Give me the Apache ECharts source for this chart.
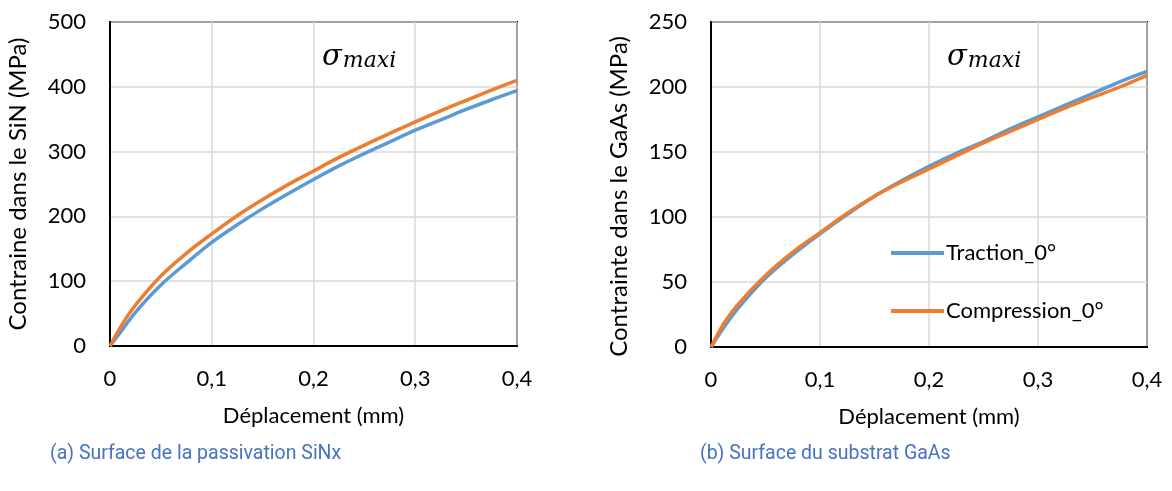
<!DOCTYPE html>
<html>
<head>
<meta charset="utf-8">
<script src="https://cdn.jsdelivr.net/npm/echarts@6/dist/echarts.min.js"></script>
<style>
html,body{margin:0;padding:0;background:#fff;}
#c{width:1172px;height:491px;}
</style>
</head>
<body>
<div id="c"></div>
<script>
// Data
const xs = [0, 0.0125, 0.025, 0.05, 0.075, 0.1, 0.125, 0.15, 0.175, 0.2, 0.225, 0.25, 0.275, 0.3, 0.325, 0.35, 0.375, 0.4];
const sinTraction    = [0, 26, 52, 94, 128, 160, 187, 212, 235, 257, 278, 297, 315, 333, 349, 365, 380, 394];
const sinCompression = [0, 35, 63, 108, 143, 173, 201, 226, 249, 270, 291, 310, 328, 346, 363, 379, 395, 410];
const gaasTraction    = [0, 16, 30, 53, 71, 87, 102, 116, 128, 139, 149, 158, 168, 177, 186, 195, 204, 212];
const gaasCompression = [0, 19, 33, 55, 73, 88, 103, 116, 127, 137, 147, 157, 166, 175, 184, 192, 200, 209];
const xTickLabels = ['0', '0,1', '0,2', '0,3', '0,4'];
const seriesNames = ['Traction_0°', 'Compression_0°'];
const yTitles = ['Contraine dans le SiN (MPa)', 'Contrainte dans le GaAs (MPa)'];
const xTitle = 'Déplacement (mm)';
const captions = ['(a) Surface de la passivation SiNx', '(b) Surface du substrat GaAs'];

const pairs = (ys) => xs.map((x, i) => [x, ys[i]]);
const FONT = 'Lato';
const FS = 22;
const BLUE = '#5B9BD5', ORANGE = '#ED7D31';

function xAxisDef(gi) {
  return {
    gridIndex: gi, type: 'value', min: 0, max: 0.4, interval: 0.1,
    name: xTitle, nameLocation: 'middle', nameGap: 59,
    nameTextStyle: {fontFamily: FONT, fontSize: FS, color: '#000'},
    axisLine: {show: true, lineStyle: {color: '#000', width: 2}},
    axisTick: {show: false},
    axisLabel: {margin: 22, fontFamily: FONT, fontSize: FS, color: '#000',
      formatter: (v) => xTickLabels[Math.round(v * 10)]},
    splitLine: {show: true, lineStyle: {color: '#d9d9d9', width: 1.5}}
  };
}
function yAxisDef(gi, max, interval, pad) {
  return {
    gridIndex: gi, type: 'value', min: 0, max: max, interval: interval,
    name: yTitles[gi], nameLocation: 'middle', nameGap: 80,
    nameTextStyle: {fontFamily: FONT, fontSize: 24, color: '#000', padding: pad},
    axisLine: {show: true, lineStyle: {color: '#000', width: 2}},
    axisTick: {show: false},
    axisLabel: {margin: 24, fontFamily: FONT, fontSize: FS, color: '#000'},
    splitLine: {show: true, lineStyle: {color: '#d9d9d9', width: 1.5}}
  };
}
function lineSeries(name, gi, ys, color) {
  return {
    name: name, type: 'line', xAxisIndex: gi, yAxisIndex: gi,
    data: pairs(ys), smooth: 0.35, symbol: 'none',
    lineStyle: {color: color, width: 3.5}, itemStyle: {color: color}
  };
}
function sigma(left, top) {
  return {
    type: 'text', left: left, top: top,
    style: {
      text: '{s|σ}{m|maxi}',
      rich: {
        s: {fontFamily: 'DejaVu Serif', fontStyle: 'italic', fontSize: 29, fill: '#000', verticalAlign: 'bottom'},
        m: {fontFamily: 'DejaVu Serif', fontStyle: 'italic', fontSize: 22, fill: '#000', padding: [20, 0, 0, 1], verticalAlign: 'bottom'}
      }
    }
  };
}

const chart = echarts.init(document.getElementById('c'), null, {renderer: 'canvas'});
chart.setOption({
  backgroundColor: '#fff',
  animation: false,
  grid: [
    {left: 110, top: 22, width: 407, height: 324, show: true, borderColor: '#000', borderWidth: 2, backgroundColor: 'transparent'},
    {left: 711, top: 22, width: 436, height: 325, show: true, borderColor: '#000', borderWidth: 2, backgroundColor: 'transparent'}
  ],
  xAxis: [xAxisDef(0), xAxisDef(1)],
  yAxis: [yAxisDef(0, 500, 100, [0, 0, 0, 0]), yAxisDef(1, 250, 50, [0, 24, 0, 0])],
  legend: {
    left: 886, top: 237, orient: 'vertical',
    icon: 'rect', itemWidth: 53, itemHeight: 4, itemGap: 36,
    textStyle: {fontFamily: FONT, fontSize: FS, color: '#000', padding: [0, 0, 0, -3]},
    data: seriesNames
  },
  series: [
    lineSeries(seriesNames[0], 0, sinTraction, BLUE),
    lineSeries(seriesNames[1], 0, sinCompression, ORANGE),
    lineSeries(seriesNames[0], 1, gaasTraction, BLUE),
    lineSeries(seriesNames[1], 1, gaasCompression, ORANGE)
  ],
  graphic: [
    sigma(322, 43),
    sigma(947, 43),
    {type: 'text', left: 50, top: 444, style: {text: captions[0], fontFamily: 'Roboto', fontSize: 19.5, fill: '#4472C4'}},
    {type: 'text', left: 700, top: 444, style: {text: captions[1], fontFamily: 'Roboto', fontSize: 19.5, fill: '#4472C4'}}
  ]
});
</script>
</body>
</html>
